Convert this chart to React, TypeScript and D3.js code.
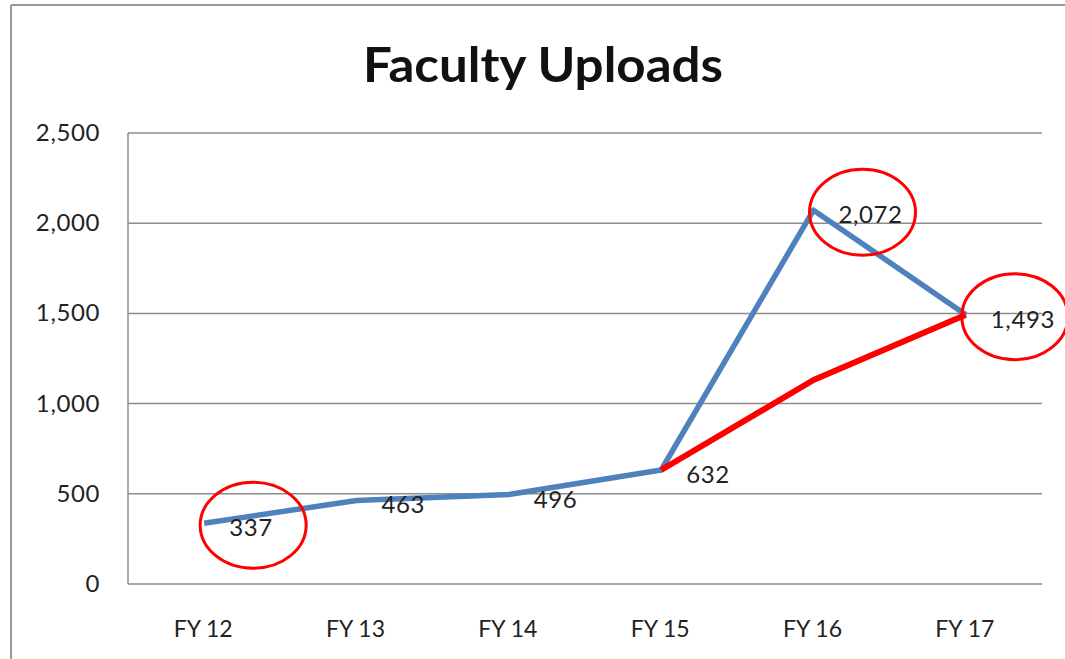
import React from "react";
import * as d3 from "d3";

const categories = ["FY12", "FY13", "FY14", "FY15", "FY16", "FY17"];
const uploads = [337, 463, 496, 632, 2072, 1493];
const trendCategories = ["FY15", "FY16", "FY17"];
const trendValues = [632, 1131, 1493];
const yTicks = [0, 500, 1000, 1500, 2000, 2500];
const circledCategories = ["FY12", "FY16", "FY17"];

const W = 1065;
const H = 659;
const M = { left: 128, right: 1042, top: 133, bottom: 584 };
const FONT = "Lato, 'Open Sans', sans-serif";

export default function App() {
  const x = d3
    .scaleBand<string>()
    .domain(categories)
    .range([M.left, M.right]);
  const cx = (c: string) => (x(c) as number) + x.bandwidth() / 2;
  const y = d3.scaleLinear().domain([0, 2500]).range([M.bottom, M.top]);
  const fmt = d3.format(",");

  const line = d3
    .line<number>()
    .x((_, i) => cx(categories[i]))
    .y((d) => y(d));
  const trendLine = d3
    .line<number>()
    .x((_, i) => cx(trendCategories[i]))
    .y((d) => y(d));

  return (
    <svg
      width={W}
      height={H}
      style={{ position: "absolute", left: 0, top: 0, background: "#fff" }}
    >
      <rect x={0} y={0} width={W} height={H} fill="#fff" />
      {/* outer chart border (top and left) */}
      <line x1={11} y1={5} x2={W} y2={5} stroke="#999" strokeWidth={2} />
      <line x1={11} y1={5} x2={11} y2={H} stroke="#999" strokeWidth={2} />

      <text
        x={543}
        y={82}
        textAnchor="middle"
        fontFamily={FONT}
        fontWeight="bold"
        fontSize={47}
        fill="#111"
        textLength={360}
        lengthAdjust="spacingAndGlyphs"
      >
        Faculty Uploads
      </text>

      {/* gridlines */}
      {yTicks.map((t) => (
        <line
          key={t}
          x1={M.left}
          x2={M.right}
          y1={y(t)}
          y2={y(t)}
          stroke="#8c8c8c"
          strokeWidth={1.5}
        />
      ))}
      <line
        x1={M.left}
        x2={M.left}
        y1={M.top}
        y2={M.bottom}
        stroke="#8c8c8c"
        strokeWidth={1.5}
      />

      {/* y labels */}
      {yTicks.map((t) => (
        <text
          key={t}
          x={100}
          y={y(t) + 8}
          textAnchor="end"
          fontFamily={FONT}
          fontSize={24}
          letterSpacing={0.6}
          fill="#222"
        >
          {fmt(t)}
        </text>
      ))}

      {/* x labels */}
      {categories.map((c) => (
        <text
          key={c}
          x={cx(c) - 1}
          y={637}
          textAnchor="middle"
          fontFamily={FONT}
          fontSize={23}
          fill="#222"
        >
          {c.replace("FY", "FY ")}
        </text>
      ))}

      {/* main series */}
      <path
        d={line(uploads) || ""}
        fill="none"
        stroke="#4f81bd"
        strokeWidth={5.5}
        strokeLinejoin="round"
      />

      {/* hand-drawn red trend */}
      <path
        d={trendLine(trendValues) || ""}
        fill="none"
        stroke="#ff0000"
        strokeWidth={6}
        strokeLinejoin="round"
      />

      {/* data labels */}
      {uploads.map((v, i) => (
        <text
          key={i}
          x={cx(categories[i]) + 25}
          y={y(v) + 13}
          fontFamily={FONT}
          fontSize={24}
          letterSpacing={0.6}
          fill="#222"
        >
          {fmt(v)}
        </text>
      ))}

      {/* red annotation ellipses */}
      {circledCategories.map((c) => {
        const i = categories.indexOf(c);
        return (
          <ellipse
            key={c}
            cx={cx(c) + 49}
            cy={y(uploads[i]) + 2}
            rx={53}
            ry={43}
            fill="none"
            stroke="#ff0000"
            strokeWidth={3}
          />
        );
      })}
    </svg>
  );
}
